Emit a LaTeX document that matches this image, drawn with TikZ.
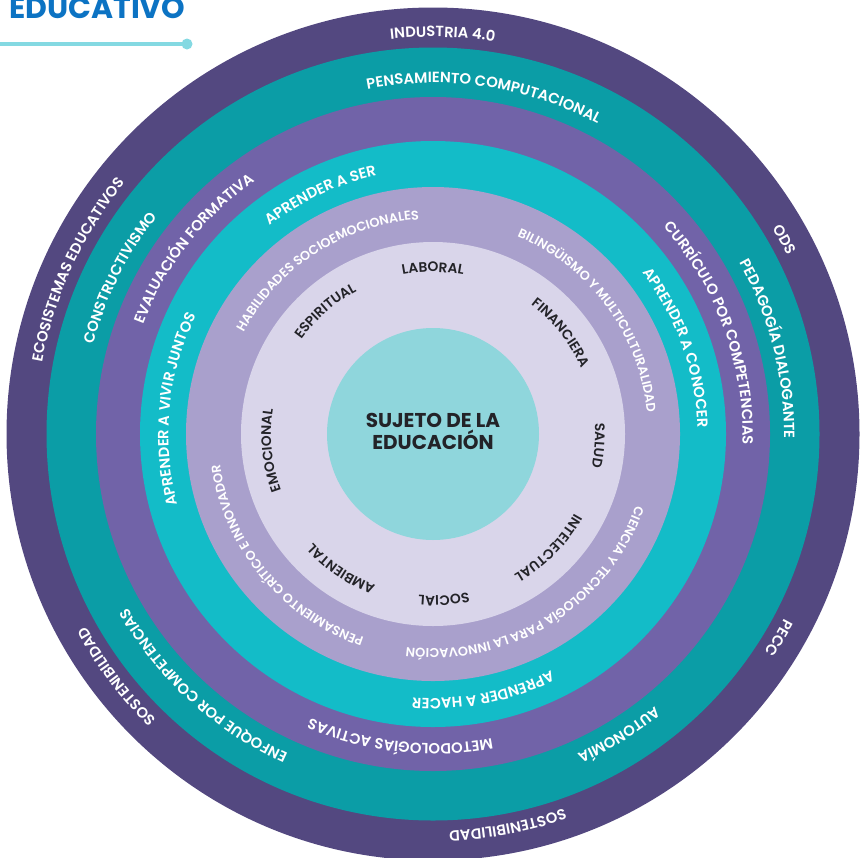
\documentclass[tikz,border=0pt]{standalone}
\usepackage{fontspec}
\setmainfont{Poppins}
\IfFontExistsTF{Poppins SemiBold}
  {\newfontfamily\labfont{Poppins SemiBold}\def\labsc{1.02}}
  {\IfFontExistsTF{Poppins Medium}
     {\newfontfamily\labfont{Poppins Medium}\def\labsc{1.04}}
     {\newfontfamily\labfont{Poppins}[FakeBold=0.8]\def\labsc{1.08}}}
\usetikzlibrary{decorations.text}
\definecolor{cOut}{RGB}{83,72,128}
\definecolor{cTeal}{RGB}{11,157,166}
\definecolor{cPur}{RGB}{113,99,168}
\definecolor{cCyan}{RGB}{19,188,200}
\definecolor{cLav}{RGB}{169,160,204}
\definecolor{cLight}{RGB}{217,213,234}
\definecolor{cCore}{RGB}{143,214,220}
\definecolor{cTitle}{RGB}{12,115,195}
\definecolor{cLine}{RGB}{132,217,226}
\definecolor{cInk}{RGB}{35,35,40}
% #1 radius, #2 centre angle, #3 font size, #4 colour, #5 text
\newcommand{\ringlabel}[5]{%
  \pgfmathsetmacro\labsize{#3*\labsc}%
  \path[decorate,decoration={text along path,text align=center,text color=#4,
     text={|\labfont\fontsize{\labsize}{\labsize}\selectfont|#5}}]
     (#2+80:#1) arc[start angle=#2+80,end angle=#2-80,radius=#1];}
\begin{document}
\begin{tikzpicture}[x=1pt,y=1pt]
\useasboundingbox (0,0) rectangle (861,-857);
% title
\node[anchor=base west,inner sep=0,text=cTitle,font=\bfseries\fontsize{30}{30}\selectfont] (title) at (9,-18.5) {EDUCATIVO};
\coordinate (lstart) at (0,-44);
\node[circle,fill=cLine,minimum size=11,inner sep=0] (dot) at (187,-44) {};
\draw[cLine,line width=3.5] (lstart) -- (dot.center);
\begin{scope}[shift={(433,-434)}]
\fill[cOut] (0,0) circle[radius=426.5];
\fill[cTeal] (0,0) circle[radius=386.5];
\fill[cPur] (0,0) circle[radius=337];
\fill[cCyan] (0,0) circle[radius=293];
\fill[cLav] (0,0) circle[radius=247];
\fill[cLight] (0,0) circle[radius=192];
\fill[cCore] (0,0) circle[radius=106];
\node[align=center,inner sep=0,text=cInk,font=\bfseries\fontsize{20}{22}\selectfont] (core) at (0,3) {SUJETO DE LA\\EDUCACIÓN};
% outer ring
\ringlabel{397}{88.6}{14.5}{white}{INDUSTRIA 4.0}
\ringlabel{397}{28.9}{14.5}{white}{ODS}
\ringlabel{397}{-30.5}{14.5}{white}{PECC}
\ringlabel{397}{-79.2}{14.5}{white}{SOSTENIBILIDAD}
\ringlabel{397}{-142.5}{14.5}{white}{SOSTENIBILIDAD}
\ringlabel{397}{155.2}{14.5}{white}{ECOSISTEMAS EDUCATIVOS}
% teal ring
\ringlabel{351}{81.4}{14.5}{white}{PENSAMIENTO COMPUTACIONAL}
\ringlabel{351}{14.2}{14.5}{white}{PEDAGOGÍA DIALOGANTE}
\ringlabel{351}{-58.3}{14.5}{white}{AUTONOMÍA}
\ringlabel{351}{-132.4}{14.5}{white}{ENFOQUE POR COMPETENCIAS}
\ringlabel{351}{153.5}{14.5}{white}{CONSTRUCTIVISMO}
% purple ring
\ringlabel{309.5}{142.2}{14.5}{white}{EVALUACIÓN FORMATIVA}
\ringlabel{309.5}{20}{14.5}{white}{CURRÍCULO POR COMPETENCIAS}
\ringlabel{309.5}{-96.2}{14.5}{white}{METODOLOGÍAS ACTIVAS}
% cyan ring
\ringlabel{264.5}{115.2}{14.5}{white}{APRENDER A SER}
\ringlabel{264.5}{19.5}{14.5}{white}{APRENDER A CONOCER}
\ringlabel{264.5}{-79}{14.5}{white}{APRENDER A HACER}
\ringlabel{264.5}{174.4}{14.5}{white}{APRENDER A VIVIR JUNTOS}
% lavender ring
\ringlabel{215}{122.7}{12.6}{white}{HABILIDADES SOCIOEMOCIONALES}
\ringlabel{215}{36.3}{12.6}{white}{BILINGÜISMO Y MULTICULTURALIDAD}
\ringlabel{215}{-58.3}{12.6}{white}{CIENCIA Y TECNOLOGÍA PARA LA INNOVACIÓN}
\ringlabel{215}{-140.3}{12.6}{white}{PENSAMIENTO CRÍTICO E INNOVADOR}
% inner ring
\ringlabel{162}{90}{13.5}{cInk}{LABORAL}
\ringlabel{162}{38.4}{13.5}{cInk}{FINANCIERA}
\ringlabel{162}{-4}{13.5}{cInk}{SALUD}
\ringlabel{162}{-44.6}{13.5}{cInk}{INTELECTUAL}
\ringlabel{162}{-86.2}{13.5}{cInk}{SOCIAL}
\ringlabel{162}{-124.3}{13.5}{cInk}{AMBIENTAL}
\ringlabel{162}{185.8}{13.5}{cInk}{EMOCIONAL}
\ringlabel{162}{131.2}{13.5}{cInk}{ESPIRITUAL}
\end{scope}
\end{tikzpicture}
\end{document}
